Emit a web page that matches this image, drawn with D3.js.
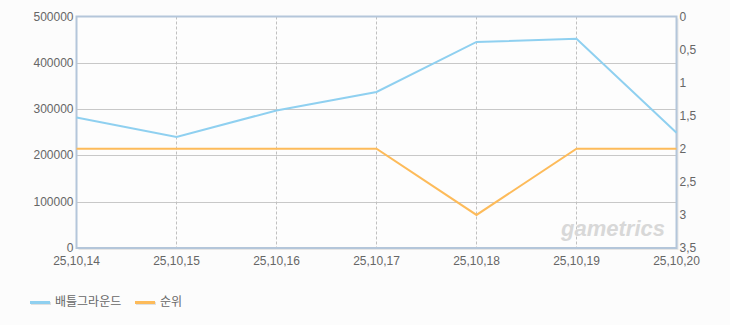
<!DOCTYPE html>
<html>
<head>
<meta charset="utf-8">
<script src="https://cdn.jsdelivr.net/npm/d3@7"></script>
<style>
  body { margin: 0; background: #fcfcfc; }
  svg text { font-family: "Liberation Sans", "Noto Sans CJK KR", sans-serif; fill: #666; }
</style>
</head>
<body>
<svg id="chart"></svg>
<script>
var dates = ["25,10,14", "25,10,15", "25,10,16", "25,10,17", "25,10,18", "25,10,19", "25,10,20"];
var players = [282000, 240000, 297000, 337000, 445000, 452000, 249000];
var ranks = [2, 2, 2, 2, 3, 2, 2];
var leftTicks = [0, 100000, 200000, 300000, 400000, 500000];
var rightTicks = [0, 0.5, 1, 1.5, 2, 2.5, 3, 3.5];
var seriesNames = ["배틀그라운드", "순위"];
var seriesColors = ["#8fd0f0", "#fdbb5a"];

var width = 730, height = 325;
var pLeft = 76.5, pRight = 676.5, pTop = 16.5, pBottom = 248;

var svg = d3.select("#chart").attr("width", width).attr("height", height);

var x = d3.scalePoint().domain(dates).range([pLeft, pRight]);
var yL = d3.scaleLinear().domain([0, 500000]).range([pBottom, pTop]);
var yR = d3.scaleLinear().domain([0, 3.5]).range([pTop, pBottom]);

// plot background + shadow
svg.append("rect").attr("x", pLeft + 2).attr("y", pTop + 2)
   .attr("width", pRight - pLeft).attr("height", pBottom - pTop)
   .attr("fill", "#e6e6e6");
svg.append("rect").attr("x", pLeft).attr("y", pTop)
   .attr("width", pRight - pLeft).attr("height", pBottom - pTop)
   .attr("fill", "#fdfdfd");

// horizontal grid
svg.selectAll(".hgrid").data(leftTicks.slice(1, -1)).enter().append("line")
   .attr("x1", pLeft).attr("x2", pRight)
   .attr("y1", function(d) { return Math.round(yL(d)) + 0.5; })
   .attr("y2", function(d) { return Math.round(yL(d)) + 0.5; })
   .attr("stroke", "#c8c8c8");

// vertical dashed grid
svg.selectAll(".vgrid").data(dates.slice(1, -1)).enter().append("line")
   .attr("y1", pTop).attr("y2", pBottom)
   .attr("x1", function(d) { return Math.round(x(d)) - 0.5; })
   .attr("x2", function(d) { return Math.round(x(d)) - 0.5; })
   .attr("stroke", "#c0c0c0").attr("stroke-dasharray", "3,2");

// watermark
svg.append("text").attr("x", 665).attr("y", 236).attr("text-anchor", "end")
   .attr("font-size", 22).attr("font-style", "italic").attr("font-weight", "bold")
   .style("fill", "#d8d8d8")
   .text("gametrics");

// border
svg.append("rect").attr("x", pLeft).attr("y", pTop)
   .attr("width", pRight - pLeft).attr("height", pBottom - pTop)
   .attr("fill", "none").attr("stroke", "#b4c6da").attr("stroke-width", 2);

// lines
var lineL = d3.line().x(function(d, i) { return x(dates[i]); }).y(function(d) { return yL(d); });
var lineR = d3.line().x(function(d, i) { return x(dates[i]); }).y(function(d) { return yR(d); });

svg.append("path").attr("d", lineL(players)).attr("fill", "none")
   .attr("stroke", seriesColors[0]).attr("stroke-width", 2);
svg.append("path").attr("d", lineR(ranks)).attr("fill", "none")
   .attr("stroke", seriesColors[1]).attr("stroke-width", 2);

// axis labels
svg.selectAll(".lt").data(leftTicks).enter().append("text")
   .attr("x", pLeft - 3).attr("y", function(d) { return yL(d) + 4; })
   .attr("text-anchor", "end").attr("font-size", 12)
   .text(function(d) { return d; });

svg.selectAll(".rt").data(rightTicks).enter().append("text")
   .attr("x", pRight + 3).attr("y", function(d) { return yR(d) + 4; })
   .attr("font-size", 12)
   .text(function(d) { return String(d).replace(".", ","); });

svg.selectAll(".xt").data(dates).enter().append("text")
   .attr("x", function(d) { return x(d); }).attr("y", pBottom + 17)
   .attr("text-anchor", "middle").attr("font-size", 12)
   .text(function(d) { return d; });

// legend
var legX = [30, 135];
seriesNames.forEach(function(name, i) {
  svg.append("rect").attr("x", legX[i] + 1).attr("y", 302)
     .attr("width", 20).attr("height", 3).attr("fill", "#e0e0e0");
  svg.append("rect").attr("x", legX[i]).attr("y", 301)
     .attr("width", 20).attr("height", 3).attr("fill", seriesColors[i]);
  svg.append("text").attr("x", legX[i] + 25).attr("y", 306)
     .attr("font-size", 12).text(name);
});
</script>
</body>
</html>
